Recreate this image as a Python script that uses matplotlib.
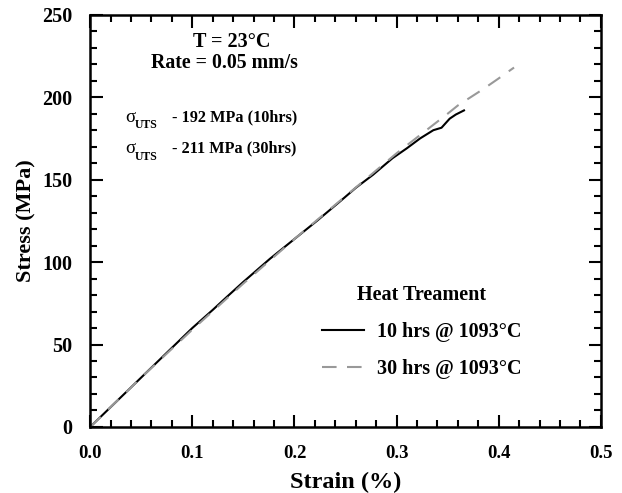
import matplotlib
matplotlib.use("Agg")
import matplotlib.pyplot as plt
from matplotlib.ticker import MultipleLocator

plt.rcParams['font.family'] = ['Liberation Serif', 'DejaVu Serif']
plt.rcParams['font.weight'] = 'bold'

# 10 hrs @ 1093C
strain_10 = [0, 0.02, 0.04, 0.06, 0.08, 0.10, 0.12, 0.134, 0.15, 0.176, 0.20,
             0.222, 0.245, 0.26, 0.277, 0.296, 0.31, 0.323, 0.336, 0.344,
             0.352, 0.358, 0.366]
stress_10 = [0, 12, 24, 36, 48, 60, 71, 79, 88, 102, 114,
             125, 137, 145, 153, 163, 169, 175, 180, 181.5,
             187, 189.5, 192]

# 30 hrs @ 1093C
strain_30 = [0, 0.05, 0.10, 0.15, 0.20, 0.25, 0.30, 0.35, 0.36, 0.385, 0.399, 0.415]
stress_30 = [0, 30, 59, 87, 114, 140, 166, 190, 195, 205, 211, 218]

x_ticks = [0, 0.1, 0.2, 0.3, 0.4, 0.5]
x_tick_labels = ['0.0', '0.1', '0.2', '0.3', '0.4', '0.5']

fig = plt.figure(figsize=(6.22, 4.93), dpi=100)
ax = fig.add_axes([0.145, 0.134, 0.821, 0.836])

l1, = ax.plot(strain_10, stress_10, color='black', lw=1.5)
l2, = ax.plot(strain_30, stress_30, color='#999999', lw=1.5, dashes=(7, 5))

ax.set_xlim(0, 0.5)
ax.set_ylim(0, 250)
ax.set_xticks(x_ticks)
ax.set_xticklabels(x_tick_labels)
ax.xaxis.set_minor_locator(MultipleLocator(0.02))
ax.yaxis.set_major_locator(MultipleLocator(50))
ax.yaxis.set_minor_locator(MultipleLocator(10))
ax.tick_params(which='both', direction='in', top=True, right=True, width=1.5, pad=13)
ax.tick_params(axis='x', labelsize=13.5)
ax.tick_params(axis='y', labelsize=14.5)
ax.tick_params(which='major', length=9)
ax.tick_params(which='minor', length=5)
for s in ax.spines.values():
    s.set_linewidth(1.8)

ax.set_xlabel('Strain (%)', fontsize=17.5, fontweight='bold', labelpad=7)
ax.set_ylabel('Stress (MPa)', fontsize=16, fontweight='bold', labelpad=4)

ax.text(0.278, 0.934, 'T = 23°C', transform=ax.transAxes, ha='center', va='center',
        fontsize=14.5, fontweight='bold')
ax.text(0.262, 0.883, 'Rate = 0.05 mm/s', transform=ax.transAxes, ha='center', va='center',
        fontsize=14.3, fontweight='bold')

for yc, txt in [(0.752, '- 192 MPa (10hrs)'), (0.675, '- 211 MPa (30hrs)')]:
    ax.text(0.068, yc, 'σ', transform=ax.transAxes, va='center', fontsize=13.5, fontweight='normal')
    ax.text(0.088, yc - 0.02, 'UTS', transform=ax.transAxes, va='center', fontsize=8.5, fontweight='bold')
    ax.text(0.160, yc, txt, transform=ax.transAxes, va='center', fontsize=11.7, fontweight='bold')

leg = ax.legend([l1, l2], ['10 hrs @ 1093°C', '30 hrs @ 1093°C'], title='Heat Treament',
                loc='upper left', bbox_to_anchor=(0.454, 0.344), frameon=False,
                borderpad=0, borderaxespad=0,
                prop={'weight': 'bold', 'size': 14.5}, handlelength=2.1,
                handletextpad=0.65, labelspacing=0.85)
leg.get_title().set_fontweight('bold')
leg.get_title().set_fontsize(14.5)

fig.savefig('out.png', dpi=100)
